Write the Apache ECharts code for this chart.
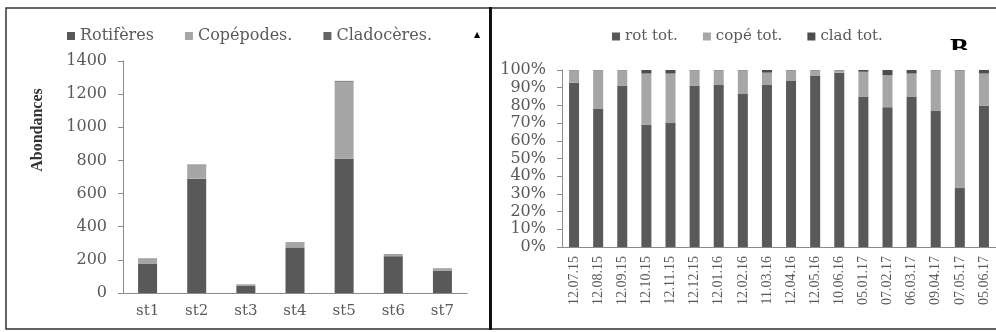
<!DOCTYPE html>
<html>
<head>
<meta charset="utf-8">
<script src="https://cdn.jsdelivr.net/npm/echarts@6/dist/echarts.min.js"></script>
<style>
html,body{margin:0;padding:0;background:#fff;}
#c{width:996px;height:332px;}
</style>
</head>
<body>
<div id="c"></div>
<script>
// Left chart: abundances per station
const stations = ['st1','st2','st3','st4','st5','st6','st7'];
const rotiferes = [178, 690, 45, 275, 810, 222, 133];
const copepodes = [25, 80, 5, 28, 465, 10, 12];
const cladoceres = [5, 5, 2, 3, 5, 3, 3];
const leftTicks = [0,200,400,600,800,1000,1200,1400];

// Right chart: relative composition per date (%)
const dates = ['12.07.15','12.08.15','12.09.15','12.10.15','12.11.15','12.12.15','12.01.16','12.02.16','11.03.16','12.04.16','12.05.16','10.06.16','05.01.17','07.02.17','06.03.17','09.04.17','07.05.17','05.06.17'];
const rotTot  = [92.8, 78.3, 91.0, 69.0, 70.0, 91.0, 91.5, 86.4, 91.5, 93.8, 96.6, 98.5, 85.0, 79.0, 85.0, 76.8, 33.3, 79.7];
const copeTot = [7.0, 21.5, 8.8, 29.0, 28.0, 8.8, 8.3, 13.4, 7.0, 6.0, 3.2, 1.3, 14.0, 18.0, 13.0, 23.0, 66.5, 18.3];
const cladTot = [0.2, 0.2, 0.2, 2.0, 2.0, 0.2, 0.2, 0.2, 1.5, 0.2, 0.2, 0.2, 1.0, 3.0, 2.0, 0.2, 0.2, 2.0];

const C_ROT = '#595959', C_COPE = '#a6a6a6', C_CLAD = '#666666';
const TXT = '#5a5a5a', AX = '#8a8a8a';
const serif = 'DejaVu Serif';

const chart = echarts.init(document.getElementById('c'));
chart.setOption({
  animation: false,
  backgroundColor: '#ffffff',
  color: [C_ROT, C_COPE, C_CLAD],
  legend: [
    {
      data: ['Rotifères','Copépodes.','Cladocères.'],
      left: 62, top: 23, icon: 'rect', itemWidth: 8, itemHeight: 8, itemGap: 31,
      textStyle: {fontFamily: serif, fontSize: 16, color: TXT}
    },
    {
      data: ['rot tot.','copé tot.','clad tot.'],
      left: 607, top: 24, icon: 'rect', itemWidth: 8, itemHeight: 8, itemGap: 25,
      textStyle: {fontFamily: serif, fontSize: 15, color: TXT}
    }
  ],
  grid: [
    {left: 123, top: 61, width: 344, height: 232},
    {left: 562, top: 70, width: 441, height: 177}
  ],
  xAxis: [
    {
      gridIndex: 0, type: 'category', data: stations,
      axisLine: {lineStyle: {color: AX}},
      axisTick: {length: 5, lineStyle: {color: AX}},
      axisLabel: {fontFamily: serif, fontSize: 15, color: TXT, margin: 11}
    },
    {
      gridIndex: 1, type: 'category', data: dates,
      axisLine: {lineStyle: {color: AX}},
      axisTick: {length: 4, lineStyle: {color: AX}},
      axisLabel: {fontFamily: 'Liberation Serif', fontSize: 14, color: TXT, rotate: 90, interval: 0, margin: 9}
    }
  ],
  yAxis: [
    {
      gridIndex: 0, type: 'value', min: leftTicks[0], max: leftTicks[leftTicks.length-1], interval: 200,
      name: 'Abondances', nameLocation: 'middle', nameGap: 77, nameRotate: 90,
      nameTextStyle: {fontFamily: 'Liberation Serif', fontSize: 16, fontWeight: 'bold', color: '#333', padding: [0,0,0,94]},
      axisLine: {show: true, lineStyle: {color: AX}},
      axisTick: {show: true, length: 5, lineStyle: {color: AX}},
      splitLine: {show: false},
      axisLabel: {fontFamily: serif, fontSize: 16, color: TXT, margin: 16, formatter: function (v) { return String(v); }}
    },
    {
      gridIndex: 1, type: 'value', min: 0, max: 100, interval: 10,
      axisLine: {show: true, lineStyle: {color: AX}},
      axisTick: {show: true, length: 5, lineStyle: {color: AX}},
      splitLine: {show: false},
      axisLabel: {fontFamily: serif, fontSize: 16, color: TXT, margin: 16, formatter: '{value}%'}
    }
  ],
  series: [
    {name: 'Rotifères', type: 'bar', stack: 'a', xAxisIndex: 0, yAxisIndex: 0, barWidth: 19, data: rotiferes, itemStyle: {color: C_ROT}},
    {name: 'Copépodes.', type: 'bar', stack: 'a', xAxisIndex: 0, yAxisIndex: 0, barWidth: 19, data: copepodes, itemStyle: {color: C_COPE}},
    {name: 'Cladocères.', type: 'bar', stack: 'a', xAxisIndex: 0, yAxisIndex: 0, barWidth: 19, data: cladoceres, itemStyle: {color: C_CLAD}},
    {name: 'rot tot.', type: 'bar', stack: 'b', xAxisIndex: 1, yAxisIndex: 1, barWidth: 10, data: rotTot, itemStyle: {color: C_ROT}},
    {name: 'copé tot.', type: 'bar', stack: 'b', xAxisIndex: 1, yAxisIndex: 1, barWidth: 10, data: copeTot, itemStyle: {color: C_COPE}},
    {name: 'clad tot.', type: 'bar', stack: 'b', xAxisIndex: 1, yAxisIndex: 1, barWidth: 10, data: cladTot, itemStyle: {color: '#4d4d4d'}}
  ],
  graphic: [
    {type: 'rect', shape: {x: 6, y: 8, width: 484, height: 321}, style: {fill: 'none', stroke: '#333', lineWidth: 1.5}, z: 100},
    {type: 'rect', shape: {x: 491, y: 8, width: 520, height: 321}, style: {fill: 'none', stroke: '#333', lineWidth: 1.5}, z: 100},
    {type: 'rect', shape: {x: 489, y: 7, width: 3, height: 323}, style: {fill: '#111'}, z: 101},
    {type: 'text', left: 474, top: 31, style: {text: '▲', font: '8px DejaVu Sans', fill: '#000'}, z: 100},
    {type: 'text', left: 950, top: 36, style: {text: 'B', font: 'bold 28px Liberation Serif', fill: '#000'}, z: 100},
    {type: 'rect', shape: {x: 940, y: 50, width: 45, height: 18}, style: {fill: '#fff'}, z: 101}
  ]
});
</script>
</body>
</html>
